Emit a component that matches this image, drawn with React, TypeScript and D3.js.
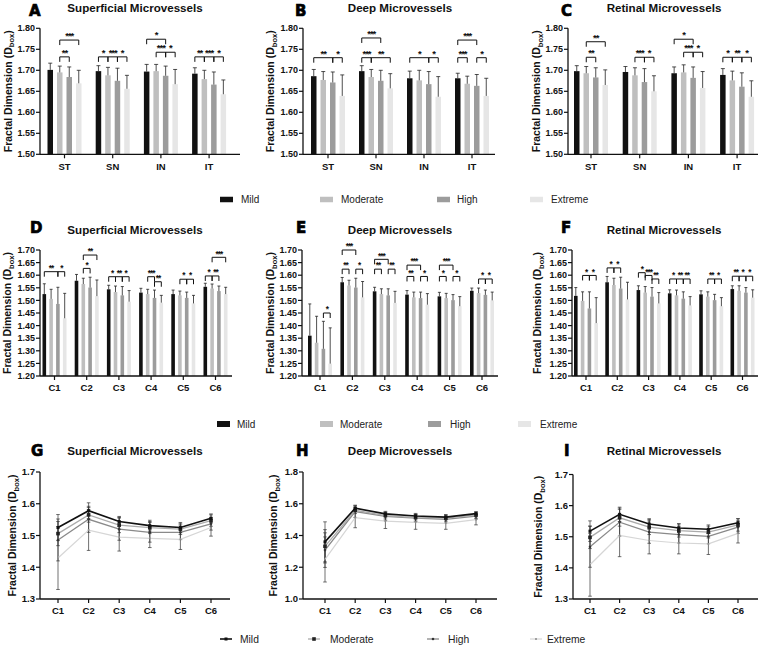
import React from "react";
import * as d3 from "d3";

// ---------- data ----------
const groups = ["Mild", "Moderate", "High", "Extreme"];
const sectors = ["ST", "SN", "IN", "IT"];
const clusters = ["C1", "C2", "C3", "C4", "C5", "C6"];

const sectorTicks = [1.5, 1.55, 1.6, 1.65, 1.7, 1.75, 1.8];
const clusterTicks = [1.2, 1.25, 1.3, 1.35, 1.4, 1.45, 1.5, 1.55, 1.6, 1.65, 1.7];
const lineTicksSR = [1.3, 1.4, 1.5, 1.6, 1.7];
const lineTicksDeep = [1.0, 1.2, 1.4, 1.6, 1.8];

// means [category][group], sd [category][group]
const supSectorMean = [[1.701, 1.695, 1.684, 1.669], [1.698, 1.688, 1.675, 1.656], [1.697, 1.698, 1.687, 1.667], [1.692, 1.679, 1.666, 1.643]];
const supSectorSD = [[0.016, 0.015, 0.024, 0.031], [0.013, 0.019, 0.030, 0.032], [0.017, 0.016, 0.023, 0.035], [0.014, 0.021, 0.030, 0.034]];
const deepSectorMean = [[1.686, 1.677, 1.671, 1.639], [1.698, 1.684, 1.675, 1.657], [1.681, 1.676, 1.667, 1.637], [1.681, 1.668, 1.663, 1.639]];
const deepSectorSD = [[0.016, 0.020, 0.025, 0.050], [0.013, 0.018, 0.025, 0.035], [0.017, 0.024, 0.030, 0.048], [0.012, 0.018, 0.027, 0.042]];
const retSectorMean = [[1.698, 1.693, 1.683, 1.665], [1.696, 1.688, 1.672, 1.650], [1.693, 1.695, 1.682, 1.658], [1.689, 1.676, 1.661, 1.637]];
const retSectorSD = [[0.013, 0.016, 0.023, 0.036], [0.013, 0.018, 0.032, 0.037], [0.015, 0.018, 0.026, 0.039], [0.015, 0.022, 0.033, 0.038]];

const supClusterMean = [[1.525, 1.506, 1.486, 1.429], [1.578, 1.565, 1.551, 1.517], [1.544, 1.533, 1.520, 1.495], [1.531, 1.525, 1.510, 1.491], [1.525, 1.520, 1.510, 1.488], [1.554, 1.547, 1.537, 1.525]];
const supClusterSD = [[0.041, 0.038, 0.066, 0.099], [0.025, 0.023, 0.041, 0.064], [0.016, 0.024, 0.035, 0.044], [0.017, 0.019, 0.031, 0.029], [0.016, 0.017, 0.023, 0.032], [0.014, 0.018, 0.020, 0.027]];
const deepClusterMean = [[1.360, 1.332, 1.308, 1.249], [1.572, 1.559, 1.551, 1.512], [1.536, 1.525, 1.520, 1.490], [1.523, 1.512, 1.509, 1.483], [1.516, 1.509, 1.501, 1.477], [1.538, 1.529, 1.522, 1.500]];
const deepClusterSD = [[0.126, 0.105, 0.109, 0.142], [0.019, 0.021, 0.037, 0.063], [0.016, 0.021, 0.026, 0.046], [0.016, 0.021, 0.024, 0.044], [0.016, 0.019, 0.022, 0.038], [0.011, 0.020, 0.019, 0.033]];
const retClusterMean = [[1.518, 1.498, 1.468, 1.410], [1.572, 1.561, 1.547, 1.504], [1.541, 1.531, 1.515, 1.488], [1.528, 1.520, 1.507, 1.480], [1.524, 1.515, 1.501, 1.477], [1.545, 1.538, 1.531, 1.511]];
const retClusterSD = [[0.033, 0.036, 0.066, 0.101], [0.023, 0.027, 0.045, 0.068], [0.017, 0.024, 0.036, 0.043], [0.014, 0.021, 0.027, 0.035], [0.014, 0.019, 0.023, 0.034], [0.013, 0.020, 0.020, 0.031]];

// significance: [category index, group a, group b, label, bracket level (data units)]
const sigA = [[0, 1, 2, "**", 1.732], [0, 1, 3, "***", 1.772], [1, 0, 1, "*", 1.732], [1, 1, 2, "***", 1.732], [1, 2, 3, "*", 1.732], [2, 0, 2, "*", 1.774], [2, 1, 2, "***", 1.743], [2, 2, 3, "*", 1.743], [3, 0, 1, "**", 1.732], [3, 1, 2, "***", 1.732], [3, 2, 3, "*", 1.732]];
const sigB = [[0, 0, 2, "**", 1.730], [0, 2, 3, "*", 1.730], [1, 0, 2, "***", 1.777], [1, 0, 1, "***", 1.730], [1, 1, 3, "**", 1.730], [2, 0, 2, "*", 1.730], [2, 2, 3, "*", 1.730], [3, 0, 2, "***", 1.772], [3, 0, 1, "***", 1.730], [3, 2, 3, "*", 1.730]];
const sigC = [[0, 1, 2, "**", 1.731], [0, 1, 3, "**", 1.768], [1, 1, 2, "***", 1.731], [1, 2, 3, "*", 1.731], [2, 0, 2, "*", 1.774], [2, 1, 2, "***", 1.743], [2, 2, 3, "*", 1.743], [3, 0, 1, "*", 1.731], [3, 1, 2, "**", 1.731], [3, 2, 3, "*", 1.731]];
const sigD = [[0, 0, 2, "**", 1.614], [0, 2, 3, "*", 1.614], [1, 1, 3, "**", 1.680], [1, 1, 2, "*", 1.627], [2, 0, 1, "*", 1.594], [2, 1, 2, "**", 1.594], [2, 2, 3, "*", 1.594], [3, 1, 2, "***", 1.594], [3, 2, 3, "**", 1.574], [4, 1, 2, "*", 1.584], [4, 2, 3, "*", 1.584], [5, 0, 1, "*", 1.597], [5, 1, 2, "**", 1.597], [5, 1, 3, "***", 1.671]];
const sigE = [[0, 2, 3, "*", 1.450], [1, 0, 2, "***", 1.700], [1, 0, 1, "**", 1.624], [1, 2, 3, "*", 1.624], [2, 0, 2, "***", 1.663], [2, 0, 1, "**", 1.624], [2, 2, 3, "**", 1.624], [3, 0, 2, "***", 1.640], [3, 0, 1, "**", 1.595], [3, 2, 3, "*", 1.595], [4, 0, 2, "***", 1.640], [4, 0, 1, "*", 1.595], [4, 2, 3, "*", 1.595], [5, 1, 2, "*", 1.585], [5, 2, 3, "*", 1.585]];
const sigF = [[0, 1, 2, "*", 1.599], [0, 2, 3, "*", 1.599], [1, 0, 1, "*", 1.629], [1, 1, 2, "*", 1.629], [2, 0, 1, "*", 1.610], [2, 1, 2, "***", 1.599], [2, 2, 3, "**", 1.585], [3, 0, 1, "*", 1.585], [3, 1, 2, "**", 1.585], [3, 2, 3, "**", 1.585], [4, 1, 2, "**", 1.585], [4, 2, 3, "*", 1.585], [5, 0, 1, "**", 1.596], [5, 1, 2, "*", 1.596], [5, 2, 3, "*", 1.596]];

// ---------- style ----------
const FONT = "'Liberation Sans', Arial, Helvetica, sans-serif";
const barColors = ["#111111", "#bfbfbf", "#9c9c9c", "#e6e6e6"];
const lineColors = ["#111111", "#ababab", "#8a8a8a", "#d6d6d6"];
const lineWidths = [1.6, 1.3, 1.3, 1.2];

function YAxisTitle({ x, yc }) {
  return (
    <text transform={`translate(${x},${yc}) rotate(-90)`} textAnchor="middle" fontFamily={FONT} fontWeight="bold" fontSize={10.5} fill="#111">
      Fractal Dimension (D<tspan fontSize={7.5} dy={2.5}>box</tspan><tspan dy={-2.5}>)</tspan>
    </text>
  );
}

function PanelHead({ letter, lx, ly, title, tx, ty }) {
  return (
    <g>
      <text x={lx} y={ly} fontFamily="'DejaVu Sans', sans-serif" fontWeight="bold" fontSize={15} stroke="#000" strokeWidth={0.7} fill="#000">{letter}</text>
      <text x={tx} y={ty} textAnchor="middle" fontFamily={FONT} fontWeight="bold" fontSize={11.6} fill="#111">{title}</text>
    </g>
  );
}

function BarPanel({ c, cats, means, sds, sig, ticks }) {
  const y = d3.scaleLinear().domain([ticks[0], ticks[ticks.length - 1]]).range([c.yBottom, c.yTop]);
  const x = d3.scaleBand().domain(cats).range([c.first - c.step / 2, c.first - c.step / 2 + cats.length * c.step]).padding(0);
  const inner = d3.scalePoint().domain(groups).range([-1.5 * c.sp, 1.5 * c.sp]);
  const cx = (ci, gi) => x(cats[ci]) + x.bandwidth() / 2 + inner(groups[gi]);
  return (
    <g>
      <PanelHead letter={c.letter} lx={c.lx} ly={c.ly} title={c.title} tx={c.tx} ty={c.ty} />
      <YAxisTitle x={c.atx} yc={(c.yTop + c.yBottom) / 2} />
      {means.map((row, ci) => row.map((m, gi) => {
        const xc = cx(ci, gi);
        const top = y(m + sds[ci][gi]);
        return (
          <g key={`${ci}-${gi}`}>
            <rect x={xc - c.bw / 2} y={y(m)} width={c.bw} height={c.yBottom - y(m)} fill={barColors[gi]} />
            <line x1={xc} x2={xc} y1={y(m)} y2={top} stroke="#222" strokeWidth={0.8} />
            <line x1={xc - c.cap / 2} x2={xc + c.cap / 2} y1={top} y2={top} stroke="#222" strokeWidth={0.8} />
          </g>
        );
      }))}
      {sig.map(([ci, a, b, lab, v], i) => {
        const x1 = cx(ci, a), x2 = cx(ci, b), yl = y(v);
        return (
          <g key={i}>
            <path d={`M${x1},${yl + c.tick}V${yl}H${x2}V${yl + c.tick}`} fill="none" stroke="#111" strokeWidth={1} />
            <text x={(x1 + x2) / 2} y={yl - 0.8} textAnchor="middle" fontFamily={FONT} fontWeight="bold" fontSize={c.star} letterSpacing={c.ls} fill="#111">{lab}</text>
          </g>
        );
      })}
      <line x1={c.axisX} x2={c.axisX} y1={c.yTop} y2={c.yBottom} stroke="#111" strokeWidth={1.3} />
      <line x1={c.axisX} x2={c.axisEnd} y1={c.yBottom} y2={c.yBottom} stroke="#111" strokeWidth={1.3} />
      {ticks.map((t) => (
        <g key={t}>
          <line x1={c.axisX - 4} x2={c.axisX} y1={y(t)} y2={y(t)} stroke="#111" strokeWidth={1.2} />
          <text x={c.axisX - 5} y={y(t)} dy="0.35em" textAnchor="end" fontFamily={FONT} fontWeight="bold" fontSize={9} fill="#111">{t.toFixed(2)}</text>
        </g>
      ))}
      {cats.map((k) => (
        <g key={k}>
          <line x1={x(k) + x.bandwidth() / 2} x2={x(k) + x.bandwidth() / 2} y1={c.yBottom} y2={c.yBottom + 4} stroke="#111" strokeWidth={1.2} />
          <text x={x(k) + x.bandwidth() / 2} y={c.labelY} textAnchor="middle" fontFamily={FONT} fontWeight="bold" fontSize={9.5} fill="#111">{k}</text>
        </g>
      ))}
    </g>
  );
}

function Marker({ gi, x, y }) {
  if (gi === 0) return <rect x={x - 1.5} y={y - 1.5} width={3} height={3} fill="#111" />;
  if (gi === 1) return <rect x={x - 1.8} y={y - 1.8} width={3.6} height={3.6} fill="#222" />;
  if (gi === 2) return <circle cx={x} cy={y} r={1.3} fill="#333" />;
  return <circle cx={x} cy={y} r={1} fill="#888" />;
}

function LinePanel({ c, means, sds, ticks, digits }) {
  const y = d3.scaleLinear().domain([ticks[0], ticks[ticks.length - 1]]).range([c.yBottom, c.yTop]);
  const x = d3.scalePoint().domain(clusters).range([c.x1, c.x6]);
  const line = d3.line().x((d) => d[0]).y((d) => d[1]);
  return (
    <g>
      <PanelHead letter={c.letter} lx={c.lx} ly={c.ly} title={c.title} tx={c.tx} ty={c.ty} />
      <YAxisTitle x={c.atx} yc={(c.yTop + c.yBottom) / 2} />
      {groups.map((g, gi) => (
        <g key={g}>
          {clusters.map((k, ci) => {
            const xx = x(k), lo = y(means[ci][gi] - sds[ci][gi]), hi = y(means[ci][gi] + sds[ci][gi]);
            return (
              <g key={k}>
                <line x1={xx} x2={xx} y1={lo} y2={hi} stroke="#333" strokeWidth={0.7} />
                <line x1={xx - 1.8} x2={xx + 1.8} y1={lo} y2={lo} stroke="#333" strokeWidth={0.7} />
                <line x1={xx - 1.8} x2={xx + 1.8} y1={hi} y2={hi} stroke="#333" strokeWidth={0.7} />
              </g>
            );
          })}
        </g>
      ))}
      {[3, 2, 1, 0].map((gi) => {
        const pts = clusters.map((k, ci) => [x(k), y(means[ci][gi])]);
        return (
          <g key={gi}>
            <path d={line(pts)} fill="none" stroke={lineColors[gi]} strokeWidth={lineWidths[gi]} />
            {pts.map((p, i) => <Marker key={i} gi={gi} x={p[0]} y={p[1]} />)}
          </g>
        );
      })}
      <line x1={c.axisX} x2={c.axisX} y1={c.yTop} y2={c.yBottom} stroke="#111" strokeWidth={1.3} />
      <line x1={c.axisX} x2={c.axisEnd} y1={c.yBottom} y2={c.yBottom} stroke="#111" strokeWidth={1.3} />
      {ticks.map((t) => (
        <g key={t}>
          <line x1={c.axisX - 4} x2={c.axisX} y1={y(t)} y2={y(t)} stroke="#111" strokeWidth={1.2} />
          <text x={c.axisX - 5} y={y(t)} dy="0.35em" textAnchor="end" fontFamily={FONT} fontWeight="bold" fontSize={9.5} fill="#111">{t.toFixed(digits)}</text>
        </g>
      ))}
      {clusters.map((k) => (
        <g key={k}>
          <line x1={x(k)} x2={x(k)} y1={c.yBottom} y2={c.yBottom + 4} stroke="#111" strokeWidth={1.2} />
          <text x={x(k)} y={c.labelY} textAnchor="middle" fontFamily={FONT} fontWeight="bold" fontSize={9.5} fill="#111">{k}</text>
        </g>
      ))}
    </g>
  );
}

function BarLegend({ yc, sx, tx, h }) {
  return (
    <g>
      {groups.map((g, i) => (
        <g key={g}>
          <rect x={sx[i]} y={yc - h / 2} width={13} height={h} fill={barColors[i]} />
          <text x={tx[i]} y={yc} dy="0.35em" fontFamily={FONT} fontSize={10} fill="#222">{g}</text>
        </g>
      ))}
    </g>
  );
}

function LineLegend({ yc, sx, tx }) {
  return (
    <g>
      {groups.map((g, i) => (
        <g key={g}>
          <line x1={sx[i]} x2={sx[i] + 12} y1={yc} y2={yc} stroke={lineColors[i]} strokeWidth={lineWidths[i]} />
          <Marker gi={i} x={sx[i] + 6} y={yc} />
          <text x={tx[i]} y={yc} dy="0.35em" fontFamily={FONT} fontSize={10.3} fill="#222">{g}</text>
        </g>
      ))}
    </g>
  );
}

const row1 = { yTop: 28.3, yBottom: 154.3, labelY: 169.5, ly: 16, ty: 12, sp: 9.5, bw: 5.5, cap: 4, tick: 5, star: 9.5, ls: -1 };
const row2 = { yTop: 250, yBottom: 376, labelY: 391, ly: 233, ty: 233.5, sp: 6.8, bw: 3.6, cap: 3, tick: 5, star: 8.3, ls: -1 };
const row3 = { yTop: 472, yBottom: 599, labelY: 613.5, ly: 456, ty: 455 };

const cfgA = { ...row1, letter: "A", lx: 29, title: "Superficial Microvessels", tx: 135, axisX: 40, axisEnd: 240, first: 64.5, step: 48.2, atx: 11.5 };
const cfgB = { ...row1, letter: "B", lx: 295, title: "Deep Microvessels", tx: 400, axisX: 303, axisEnd: 495, first: 328, step: 48, atx: 274 };
const cfgC = { ...row1, letter: "C", lx: 561, title: "Retinal Microvessels", tx: 664, axisX: 568, axisEnd: 758, first: 591, step: 48.7, atx: 540 };
const cfgD = { ...row2, letter: "D", lx: 30, title: "Superficial Microvessels", tx: 135, axisX: 40, axisEnd: 232, first: 54.5, step: 32.2, atx: 11 };
const cfgE = { ...row2, letter: "E", lx: 296, title: "Deep Microvessels", tx: 400, axisX: 302, axisEnd: 498, first: 320, step: 32.4, atx: 274 };
const cfgF = { ...row2, letter: "F", lx: 561, title: "Retinal Microvessels", tx: 664, axisX: 572, axisEnd: 758, first: 586, step: 31.3, atx: 541 };
const cfgG = { ...row3, letter: "G", lx: 31, title: "Superficial Microvessels", tx: 135, axisX: 40, axisEnd: 230, x1: 58, x6: 211, atx: 16 };
const cfgH = { ...row3, letter: "H", lx: 296, title: "Deep Microvessels", tx: 400, axisX: 303, axisEnd: 497, x1: 325, x6: 476, atx: 277 };
const cfgI = { ...row3, letter: "I", lx: 564, title: "Retinal Microvessels", tx: 664, axisX: 573, axisEnd: 758, x1: 590, x6: 738, atx: 542, yTop: 474.5 };

export default function App() {
  return (
    <svg width={758} height={645} style={{ position: "fixed", left: 0, top: 0, background: "#fff" }}>
      <rect width={758} height={645} fill="#fff" />
      <BarPanel c={cfgA} cats={sectors} means={supSectorMean} sds={supSectorSD} sig={sigA} ticks={sectorTicks} />
      <BarPanel c={cfgB} cats={sectors} means={deepSectorMean} sds={deepSectorSD} sig={sigB} ticks={sectorTicks} />
      <BarPanel c={cfgC} cats={sectors} means={retSectorMean} sds={retSectorSD} sig={sigC} ticks={sectorTicks} />
      <BarLegend yc={199.5} sx={[220, 320, 437, 530]} tx={[241, 341, 457, 551]} h={5.5} />
      <BarPanel c={cfgD} cats={clusters} means={supClusterMean} sds={supClusterSD} sig={sigD} ticks={clusterTicks} />
      <BarPanel c={cfgE} cats={clusters} means={deepClusterMean} sds={deepClusterSD} sig={sigE} ticks={clusterTicks} />
      <BarPanel c={cfgF} cats={clusters} means={retClusterMean} sds={retClusterSD} sig={sigF} ticks={clusterTicks} />
      <BarLegend yc={424} sx={[217, 320, 428, 518]} tx={[237, 340, 450, 540]} h={6} />
      <LinePanel c={cfgG} means={supClusterMean} sds={supClusterSD} ticks={lineTicksSR} digits={1} />
      <LinePanel c={cfgH} means={deepClusterMean} sds={deepClusterSD} ticks={lineTicksDeep} digits={1} />
      <LinePanel c={cfgI} means={retClusterMean} sds={retClusterSD} ticks={lineTicksSR} digits={1} />
      <LineLegend yc={639} sx={[220, 308, 427, 530]} tx={[240, 330, 448, 547]} />
    </svg>
  );
}
